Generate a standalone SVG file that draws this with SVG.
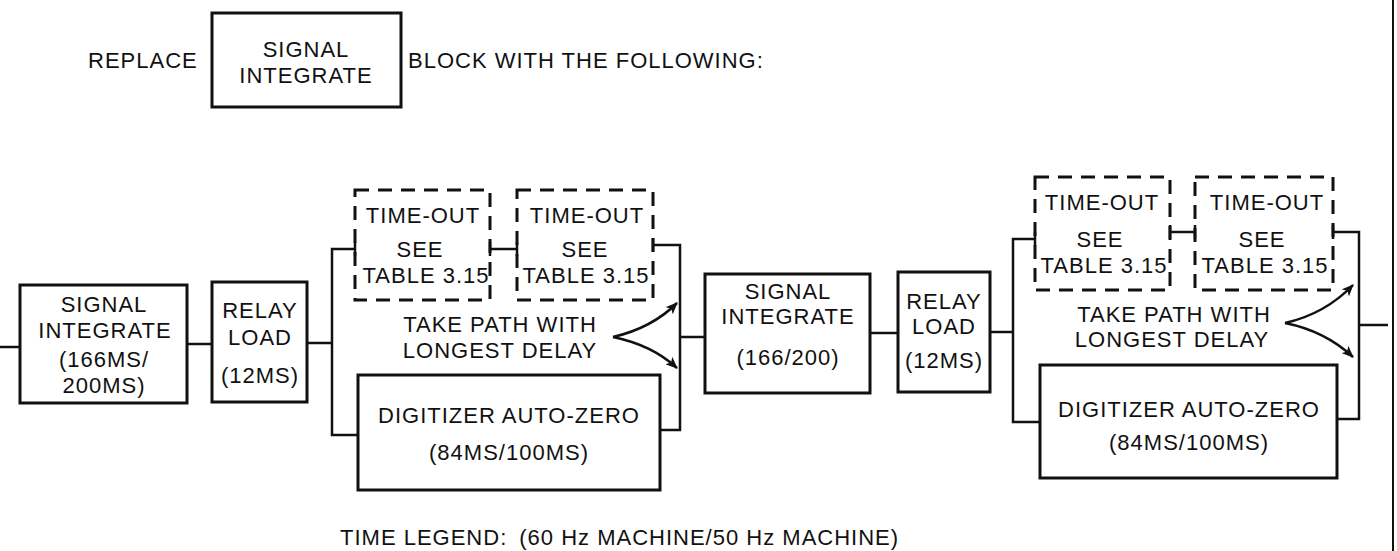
<svg xmlns="http://www.w3.org/2000/svg" width="1397" height="551" viewBox="0 0 1397 551">
<style>
text{font-family:"Liberation Sans",Arial,Helvetica,sans-serif;font-size:22px;letter-spacing:1px;fill:#111}
.c{text-anchor:middle}
.box{fill:none;stroke:#111;stroke-width:3}
.dash{fill:none;stroke:#111;stroke-width:3;stroke-dasharray:14 9}
.ln{fill:none;stroke:#111;stroke-width:2.5}
.arr{fill:none;stroke:#111;stroke-width:2.5;marker-end:url(#ah)}
</style>
<defs>
<marker id="ah" viewBox="0 0 12 10" refX="11" refY="5" markerWidth="12" markerHeight="10" markerUnits="userSpaceOnUse" orient="auto">
<path d="M0,0 L12,5 L0,10 L3,5 Z" fill="#111"/>
</marker>
</defs>
<rect width="1397" height="551" fill="#fff"/>

<g id="header">
<text x="88" y="68">REPLACE</text>
<rect class="box" x="212" y="13" width="189" height="94"/>
<text class="c" x="306" y="57">SIGNAL</text>
<text class="c" x="306" y="83">INTEGRATE</text>
<text x="408" y="68">BLOCK WITH THE FOLLOWING:</text>
</g>

<g id="connectors">
<line class="ln" x1="0" y1="347" x2="20" y2="347"/>
<line class="ln" x1="187" y1="344" x2="212" y2="344"/>
<line class="ln" x1="307" y1="343" x2="332" y2="343"/>
<polyline class="ln" points="355,249 332,249 332,435 358,435"/>
<line class="ln" x1="355" y1="242" x2="355" y2="256"/>
<line class="ln" x1="490" y1="249" x2="517" y2="249"/>
<line class="ln" x1="490" y1="242" x2="490" y2="256"/>
<line class="ln" x1="517" y1="242" x2="517" y2="256"/>
<polyline class="ln" points="653,245 680,245 680,430 660,430"/>
<line class="ln" x1="653" y1="238" x2="653" y2="252"/>
<line class="ln" x1="680" y1="337" x2="705" y2="337"/>
<path class="arr" d="M613,337 Q652,328 677,303"/>
<path class="arr" d="M613,337 Q652,345 677,368"/>
<line class="ln" x1="870" y1="333" x2="898" y2="333"/>
<line class="ln" x1="990" y1="332" x2="1013" y2="332"/>
<polyline class="ln" points="1035,239 1013,239 1013,422 1040,422"/>
<line class="ln" x1="1035" y1="232" x2="1035" y2="246"/>
<line class="ln" x1="1170" y1="232" x2="1195" y2="232"/>
<line class="ln" x1="1170" y1="225" x2="1170" y2="239"/>
<line class="ln" x1="1195" y1="225" x2="1195" y2="239"/>
<polyline class="ln" points="1333,232 1359,232 1359,419 1337,419"/>
<line class="ln" x1="1333" y1="225" x2="1333" y2="239"/>
<line class="ln" x1="1359" y1="325" x2="1388" y2="325"/>
<path class="arr" d="M1285,323 Q1325,314 1353,285"/>
<path class="arr" d="M1285,323 Q1325,331 1353,357"/>
<line x1="1393" y1="0" x2="1393" y2="551" stroke="#111" stroke-width="2"/>
</g>

<g id="signal1">
<rect class="box" x="20" y="285" width="167" height="118"/>
<text class="c" x="104" y="312">SIGNAL</text>
<text class="c" x="105" y="338">INTEGRATE</text>
<text class="c" x="104" y="367">(166MS/</text>
<text class="c" x="104" y="393">200MS)</text>
</g>
<g id="relay1">
<rect class="box" x="212" y="282" width="95" height="120"/>
<text class="c" x="260" y="318">RELAY</text>
<text class="c" x="260" y="345">LOAD</text>
<text class="c" x="260" y="383">(12MS)</text>
</g>
<g id="timeout1">
<rect class="dash" x="355" y="190" width="135" height="110"/>
<text class="c" x="423" y="223">TIME-OUT</text>
<text class="c" x="420" y="257">SEE</text>
<text class="c" x="426" y="283">TABLE 3.15</text>
</g>
<g id="timeout2">
<rect class="dash" x="517" y="190" width="136" height="110"/>
<text class="c" x="587" y="223">TIME-OUT</text>
<text class="c" x="585" y="257">SEE</text>
<text class="c" x="586" y="283">TABLE 3.15</text>
</g>
<g id="note1">
<text class="c" x="500" y="332">TAKE PATH WITH</text>
<text class="c" x="500" y="358">LONGEST DELAY</text>
</g>
<g id="digitizer1">
<rect class="box" x="358" y="375" width="302" height="115"/>
<text class="c" x="509" y="423">DIGITIZER AUTO-ZERO</text>
<text class="c" x="509" y="460">(84MS/100MS)</text>
</g>
<g id="signal2">
<rect class="box" x="705" y="274" width="165" height="119"/>
<text class="c" x="788" y="299">SIGNAL</text>
<text class="c" x="788" y="324">INTEGRATE</text>
<text class="c" x="788" y="365">(166/200)</text>
</g>
<g id="relay2">
<rect class="box" x="898" y="272" width="92" height="120"/>
<text class="c" x="944" y="309">RELAY</text>
<text class="c" x="944" y="334">LOAD</text>
<text class="c" x="944" y="368">(12MS)</text>
</g>
<g id="timeout3">
<rect class="dash" x="1035" y="177" width="135" height="113"/>
<text class="c" x="1102" y="210">TIME-OUT</text>
<text class="c" x="1100" y="247">SEE</text>
<text class="c" x="1104" y="273">TABLE 3.15</text>
</g>
<g id="timeout4">
<rect class="dash" x="1195" y="177" width="138" height="113"/>
<text class="c" x="1267" y="210">TIME-OUT</text>
<text class="c" x="1262" y="247">SEE</text>
<text class="c" x="1265" y="273">TABLE 3.15</text>
</g>
<g id="note2">
<text class="c" x="1174" y="322">TAKE PATH WITH</text>
<text class="c" x="1172" y="347">LONGEST DELAY</text>
</g>
<g id="digitizer2">
<rect class="box" x="1040" y="365" width="297" height="113"/>
<text class="c" x="1189" y="417">DIGITIZER AUTO-ZERO</text>
<text class="c" x="1189" y="450">(84MS/100MS)</text>
</g>
<g id="legend">
<text x="340" y="545">TIME LEGEND:<tspan dx="12">(60 Hz MACHINE/50 Hz MACHINE)</tspan></text>
</g>
</svg>
